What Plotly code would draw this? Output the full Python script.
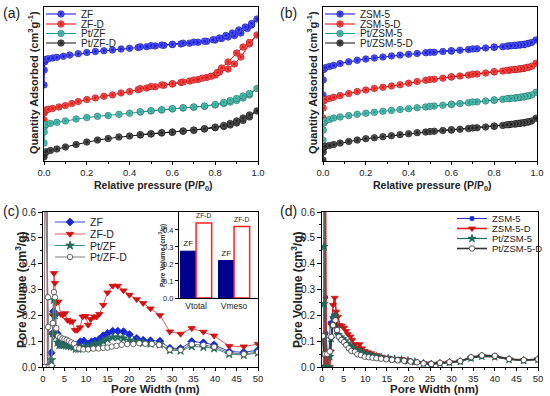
import plotly.graph_objects as go

FONT = "Liberation Sans, Arial, sans-serif"
W, H = 550, 396

# ------------------------- panel (a): N2 isotherms, ZF series -------------------------
a_zf_ads_x = [0.0, 0.001, 0.003, 0.006, 0.01, 0.02, 0.04, 0.06, 0.09, 0.12, 0.16, 0.2, 0.24, 0.28, 0.32, 0.36, 0.4, 0.44, 0.48, 0.52, 0.56, 0.6, 0.64, 0.68, 0.72, 0.76, 0.8, 0.83, 0.86, 0.89, 0.92, 0.95, 0.97, 0.995]
a_zf_ads_y = [49.4, 59.1, 64.3, 65.6, 66.0, 66.4, 66.9, 67.3, 68.0, 68.8, 69.7, 70.5, 71.1, 71.6, 72.1, 72.7, 73.2, 73.7, 74.2, 74.7, 75.1, 75.6, 76.0, 76.5, 77.1, 77.7, 78.6, 79.5, 80.5, 81.5, 83.1, 86.0, 88.3, 92.2]
a_zf_des_x = [0.97, 0.94, 0.91, 0.88, 0.85, 0.82, 0.79, 0.75, 0.7, 0.65, 0.6, 0.55, 0.5, 0.45]
a_zf_des_y = [89.3, 87.0, 85.1, 83.1, 81.5, 79.9, 78.7, 77.8, 77.2, 76.5, 75.8, 75.3, 74.9, 74.2]

a_zfd_ads_x = [0.0, 0.001, 0.004, 0.01, 0.02, 0.04, 0.07, 0.1, 0.13, 0.16, 0.2, 0.24, 0.28, 0.32, 0.36, 0.4, 0.44, 0.48, 0.52, 0.56, 0.6, 0.64, 0.68, 0.72, 0.76, 0.8, 0.82, 0.86, 0.89, 0.92, 0.96, 0.995]
a_zfd_ads_y = [26.6, 31.2, 32.5, 33.1, 33.6, 34.1, 35.1, 36.0, 37.3, 38.6, 39.9, 40.9, 42.0, 42.9, 44.2, 45.1, 46.3, 47.4, 48.2, 49.2, 50.0, 51.0, 51.9, 52.9, 54.2, 55.8, 57.8, 59.7, 63.0, 67.5, 76.0, 81.8]
a_zfd_des_x = [0.96, 0.93, 0.9, 0.86, 0.83, 0.81, 0.78, 0.74, 0.7, 0.65, 0.6, 0.55, 0.5, 0.45]
a_zfd_des_y = [77.0, 74.0, 70.1, 64.3, 60.4, 57.5, 55.0, 53.8, 52.6, 51.3, 50.2, 49.4, 48.4, 47.0]

a_ptzf_ads_x = [0.0, 0.001, 0.004, 0.01, 0.03, 0.06, 0.1, 0.15, 0.2, 0.25, 0.3, 0.35, 0.4, 0.45, 0.5, 0.55, 0.6, 0.65, 0.7, 0.75, 0.8, 0.84, 0.87, 0.9, 0.93, 0.96, 0.995]
a_ptzf_ads_y = [11.7, 18.8, 22.7, 23.8, 24.4, 25.1, 26.0, 27.3, 28.2, 29.0, 29.5, 30.3, 31.0, 31.8, 32.5, 33.1, 33.8, 34.4, 34.9, 35.5, 36.4, 37.3, 38.3, 39.3, 40.9, 42.9, 47.1]
a_ptzf_des_x = [0.96, 0.93, 0.9, 0.87, 0.84, 0.8, 0.75, 0.7, 0.65, 0.6, 0.55, 0.5, 0.45]
a_ptzf_des_y = [43.8, 42.2, 40.6, 39.3, 38.0, 36.7, 35.7, 35.1, 34.6, 34.0, 33.3, 32.7, 32.0]

a_ptzfd_ads_x = [0.0, 0.001, 0.005, 0.01, 0.03, 0.06, 0.1, 0.15, 0.2, 0.25, 0.3, 0.35, 0.4, 0.45, 0.5, 0.55, 0.6, 0.65, 0.7, 0.75, 0.8, 0.84, 0.87, 0.9, 0.93, 0.96, 0.995]
a_ptzfd_ads_y = [2.6, 4.5, 5.5, 6.0, 6.8, 7.8, 9.1, 10.7, 12.3, 13.6, 14.6, 15.6, 16.2, 16.9, 17.5, 18.2, 18.6, 19.3, 19.9, 20.8, 21.6, 22.4, 23.4, 24.7, 26.3, 28.6, 32.5]
a_ptzfd_des_x = [0.96, 0.93, 0.9, 0.87, 0.84, 0.8, 0.75, 0.7, 0.65, 0.6, 0.55, 0.5, 0.45]
a_ptzfd_des_y = [29.9, 27.9, 26.0, 24.4, 23.1, 22.0, 21.0, 20.1, 19.5, 18.8, 18.4, 17.7, 17.1]

# ------------------------- panel (b): N2 isotherms, ZSM-5 series -------------------------
b_ads_x = [0.0, 0.001, 0.004, 0.01, 0.03, 0.05, 0.08, 0.12, 0.16, 0.2, 0.24, 0.28, 0.32, 0.36, 0.4, 0.44, 0.48, 0.52, 0.56, 0.6, 0.64, 0.68, 0.72, 0.76, 0.8, 0.84, 0.87, 0.9, 0.92, 0.94, 0.96, 0.995]
b_des_x = [0.975, 0.955, 0.94, 0.925, 0.91, 0.895, 0.88, 0.86, 0.8, 0.7, 0.6, 0.5]

b_zsm_ads_y = [42.9, 52.6, 59.5, 60.6, 61.4, 62.1, 63.3, 64.4, 65.4, 66.2, 66.9, 67.5, 68.2, 68.8, 69.3, 69.8, 70.3, 70.6, 71.1, 71.4, 71.9, 72.4, 72.9, 73.4, 73.8, 74.2, 74.7, 75.0, 75.3, 75.6, 76.3, 78.6]
b_zsm_des_y = [77.0, 76.2, 75.8, 75.5, 75.3, 75.1, 74.9, 74.6, 74.0, 72.8, 71.6, 70.6]

b_zsmd_ads_y = [27.9, 34.4, 39.0, 39.9, 40.6, 41.4, 42.5, 43.8, 45.1, 46.1, 47.1, 47.9, 48.7, 49.5, 50.5, 51.6, 52.4, 53.1, 53.8, 54.5, 55.2, 55.8, 56.5, 57.1, 57.8, 58.4, 58.9, 59.4, 59.7, 60.1, 60.8, 63.4]
b_zsmd_des_y = [61.5, 60.8, 60.3, 60.0, 59.7, 59.4, 59.2, 58.9, 58.0, 56.4, 54.7, 52.9]

b_ptzsm_ads_y = [13.6, 20.1, 24.7, 26.0, 26.9, 27.9, 28.6, 29.5, 30.3, 31.0, 31.6, 32.3, 32.8, 33.4, 34.0, 34.6, 35.1, 35.7, 36.2, 36.7, 37.3, 37.9, 38.4, 39.0, 39.4, 40.1, 40.5, 40.9, 41.2, 41.6, 42.2, 44.6]
b_ptzsm_des_y = [42.9, 42.3, 41.8, 41.5, 41.2, 40.9, 40.7, 40.5, 39.7, 38.3, 36.9, 35.5]

b_ptzsmd_ads_y = [0.6, 5.8, 8.8, 9.5, 10.1, 10.7, 11.7, 12.7, 13.6, 14.5, 15.1, 15.8, 16.4, 17.1, 17.7, 18.4, 18.8, 19.3, 19.8, 20.1, 20.6, 21.1, 21.6, 22.1, 22.5, 23.1, 23.6, 24.0, 24.4, 24.7, 25.3, 27.7]
b_ptzsmd_des_y = [26.0, 25.4, 25.0, 24.7, 24.4, 24.1, 23.8, 23.5, 22.7, 21.5, 20.3, 19.1]

# ------------------------- panel (c): pore size distribution, ZF series -------------------------
c_zf_x = [0.9, 1.05, 1.9, 2.2, 2.45, 2.7, 3.0, 3.3, 3.7, 4.1, 4.6, 5.1, 5.7, 6.3, 6.8, 7.4, 8.0, 8.7, 9.5, 10.5, 11.3, 12.1, 13.1, 14.0, 15.0, 16.2, 17.4, 18.7, 20.1, 21.8, 23.3, 25.0, 27.2, 29.5, 32.0, 34.6, 37.3, 39.8, 43.3, 46.7, 50.0]
c_zf_y = [1.2, 0.0, 0.055, 0.13, 0.215, 0.2, 0.13, 0.13, 0.09, 0.088, 0.09, 0.088, 0.085, 0.085, 0.082, 0.08, 0.077, 0.098, 0.101, 0.088, 0.098, 0.101, 0.108, 0.121, 0.13, 0.139, 0.139, 0.137, 0.126, 0.111, 0.104, 0.102, 0.1, 0.073, 0.072, 0.099, 0.094, 0.086, 0.06, 0.057, 0.065]

c_zfd_x = [0.9, 1.0, 2.0, 2.3, 2.56, 2.75, 3.0, 3.57, 4.11, 4.57, 5.12, 5.66, 6.28, 6.82, 7.44, 7.98, 8.6, 9.22, 9.92, 10.5, 11.1, 11.9, 12.5, 13.1, 14.0, 15.0, 16.2, 17.4, 18.7, 20.1, 21.8, 23.3, 25.0, 27.2, 29.5, 32.0, 34.6, 37.3, 39.8, 43.3, 46.7, 50.0]
c_zfd_y = [1.2, 0.0, 0.0, 0.2, 0.363, 0.325, 0.247, 0.253, 0.205, 0.201, 0.208, 0.182, 0.176, 0.176, 0.143, 0.143, 0.153, 0.195, 0.197, 0.163, 0.185, 0.195, 0.195, 0.205, 0.24, 0.288, 0.314, 0.314, 0.296, 0.279, 0.262, 0.247, 0.226, 0.2, 0.137, 0.128, 0.15, 0.136, 0.121, 0.081, 0.079, 0.089]

c_ptzf_x = [1.7, 1.95, 2.25, 2.5, 2.75, 3.0, 3.4, 3.8, 4.3, 4.8, 5.3, 5.9, 6.5, 7.1, 7.6, 8.2, 8.9, 9.6, 10.5, 11.3, 12.1, 13.1, 14.0, 15.0, 16.2, 17.4, 18.7, 20.1, 21.8, 23.3, 25.0, 27.2, 29.5, 32.0, 34.6, 37.3, 39.8, 43.3, 46.7, 50.0]
c_ptzf_y = [0.0, 0.027, 0.13, 0.26, 0.2, 0.12, 0.095, 0.085, 0.085, 0.085, 0.083, 0.082, 0.08, 0.078, 0.07, 0.07, 0.075, 0.079, 0.078, 0.083, 0.088, 0.092, 0.1, 0.108, 0.115, 0.115, 0.111, 0.103, 0.098, 0.093, 0.09, 0.087, 0.065, 0.063, 0.08, 0.077, 0.072, 0.05, 0.046, 0.055]

c_ptzfd_x = [0.3, 0.45, 1.15, 1.2, 1.4, 2.0, 2.3, 2.55, 2.8, 3.1, 3.5, 4.0, 4.5, 5.0, 5.5, 6.0, 6.6, 7.2, 7.7, 8.4, 9.4, 10.5, 11.7, 12.9, 14.0, 15.0, 16.0, 17.1, 18.3, 19.6, 21.0, 22.4, 23.8, 25.3, 27.0, 29.5, 32.0, 34.6, 37.3, 39.8, 43.3, 46.7, 50.0]
c_ptzfd_y = [0.0, 0.75, 0.27, 0.155, 0.0, 0.005, 0.17, 0.29, 0.27, 0.15, 0.12, 0.115, 0.11, 0.108, 0.105, 0.1, 0.095, 0.09, 0.075, 0.072, 0.068, 0.068, 0.071, 0.072, 0.074, 0.075, 0.079, 0.082, 0.086, 0.089, 0.089, 0.092, 0.09, 0.089, 0.086, 0.068, 0.066, 0.088, 0.085, 0.078, 0.055, 0.05, 0.058]

# inset of (c): pore volumes
inset_cats = ["Vtotal", "Vmeso"]
inset_zf = [0.275, 0.22]
inset_zfd = [0.44, 0.42]

# ------------------------- panel (d): pore size distribution, ZSM-5 series -------------------------
d_zsm_x = [0.6, 0.8, 0.9, 1.0, 1.6, 1.9, 2.2, 2.5, 2.8, 3.1, 3.5, 3.9, 4.4, 5.0, 5.5, 6.0, 6.6, 7.2, 7.8, 8.5, 9.2, 10.0, 11.0, 12.0, 13.2, 14.5, 16.0, 17.5, 19.0, 20.5, 22.0, 23.5, 25.0, 27.3, 29.5, 32.0, 34.5, 37.0, 40.0, 43.3, 46.7, 50.0]
d_zsm_y = [0.0, 0.27, 0.13, 0.0, 0.04, 0.17, 0.17, 0.19, 0.2, 0.17, 0.13, 0.115, 0.105, 0.1, 0.092, 0.085, 0.078, 0.072, 0.065, 0.06, 0.056, 0.05, 0.046, 0.042, 0.038, 0.035, 0.032, 0.03, 0.027, 0.024, 0.02, 0.016, 0.013, 0.015, 0.018, 0.022, 0.035, 0.042, 0.04, 0.03, 0.026, 0.03]

d_zsmd_x = [0.7, 0.75, 1.0, 1.8, 2.05, 2.3, 2.55, 2.93, 3.3, 3.7, 4.1, 4.6, 5.1, 5.6, 6.0, 6.6, 7.0, 7.6, 8.2, 8.7, 9.3, 9.9, 10.6, 11.4, 12.6, 13.7, 15.3, 16.8, 18.4, 19.9, 21.5, 23.5, 25.3, 27.3, 29.5, 32.0, 34.5, 37.0, 40.0, 43.3, 46.7, 50.0]
d_zsmd_y = [0.0, 0.9, 0.0, 0.0, 0.06, 0.16, 0.24, 0.268, 0.214, 0.195, 0.162, 0.16, 0.152, 0.139, 0.127, 0.118, 0.105, 0.088, 0.075, 0.088, 0.072, 0.062, 0.057, 0.053, 0.046, 0.04, 0.036, 0.031, 0.031, 0.026, 0.02, 0.015, 0.012, 0.015, 0.018, 0.022, 0.036, 0.042, 0.04, 0.03, 0.026, 0.03]

d_ptzsm_x = [0.4, 0.45, 0.5, 0.52, 1.4, 1.8, 2.1, 2.4, 2.7, 3.0, 3.4, 3.8, 4.3, 4.8, 5.3, 5.9, 6.5, 7.1, 7.7, 8.3, 9.0, 9.8, 10.6, 11.4, 12.6, 13.7, 15.3, 16.8, 18.4, 19.9, 21.5, 23.5, 25.3, 27.3, 29.5, 32.0, 34.5, 37.0, 40.0, 43.3, 46.7, 50.0]
d_ptzsm_y = [0.0, 0.9, 0.466, 0.245, 0.0, 0.04, 0.11, 0.165, 0.19, 0.2, 0.15, 0.125, 0.115, 0.108, 0.1, 0.09, 0.082, 0.075, 0.066, 0.06, 0.058, 0.052, 0.048, 0.045, 0.041, 0.037, 0.033, 0.03, 0.028, 0.024, 0.02, 0.014, 0.011, 0.014, 0.017, 0.021, 0.034, 0.041, 0.039, 0.029, 0.025, 0.029]

d_ptzsmd_x = [0.2, 0.4, 0.7, 1.2, 1.8, 2.16, 2.55, 3.09, 3.5, 3.9, 4.5, 5.1, 5.6, 6.2, 6.8, 7.6, 8.2, 9.0, 9.9, 10.8, 11.7, 12.6, 13.7, 14.9, 16.2, 17.5, 19.0, 20.5, 22.0, 23.5, 25.3, 27.3, 29.5, 32.0, 34.5, 37.0, 40.0, 43.3, 46.7, 50.0]
d_ptzsmd_y = [0.12, 0.05, 0.05, 0.05, 0.06, 0.117, 0.162, 0.181, 0.143, 0.117, 0.105, 0.096, 0.085, 0.072, 0.062, 0.059, 0.049, 0.046, 0.04, 0.038, 0.036, 0.034, 0.032, 0.03, 0.028, 0.026, 0.024, 0.021, 0.018, 0.014, 0.012, 0.016, 0.019, 0.023, 0.038, 0.045, 0.043, 0.031, 0.027, 0.03]

# ------------------------- styling helpers -------------------------
def px_x(p):
    return p / W


def px_y(p):
    return 1 - p / H


BALL = {
    "blue": ("#0808e8", "#6f78ff", "#0000a0"),
    "red": ("#e80000", "#ff7070", "#a00000"),
    "teal": ("#1a9a8c", "#70d0c4", "#0e6058"),
    "black": ("#111111", "#707070", "#000000"),
}

fig = go.Figure()


def iso_trace(name, xs, ys, col, xa, ya, leg):
    main, light, dark = BALL[col]
    fig.add_trace(go.Scatter(
        x=xs, y=ys, name=name, mode="lines+markers", xaxis=xa, yaxis=ya, legend=leg,
        line=dict(color=main, width=1),
        marker=dict(symbol="circle", size=6.5, color=light,
                    gradient=dict(type="radial", color=main),
                    line=dict(width=0.6, color=dark)),
    ))


# panel (a)
iso_trace("ZF", a_zf_ads_x + a_zf_des_x, a_zf_ads_y + a_zf_des_y, "blue", "x", "y", "legend")
iso_trace("ZF-D", a_zfd_ads_x + a_zfd_des_x, a_zfd_ads_y + a_zfd_des_y, "red", "x", "y", "legend2")
iso_trace("Pt/ZF", a_ptzf_ads_x + a_ptzf_des_x, a_ptzf_ads_y + a_ptzf_des_y, "teal", "x", "y", "legend3")
iso_trace("Pt/ZF-D", a_ptzfd_ads_x + a_ptzfd_des_x, a_ptzfd_ads_y + a_ptzfd_des_y, "black", "x", "y", "legend4")

# panel (b)
iso_trace("ZSM-5", b_ads_x + b_des_x, b_zsm_ads_y + b_zsm_des_y, "blue", "x2", "y2", "legend5")
iso_trace("ZSM-5-D", b_ads_x + b_des_x, b_zsmd_ads_y + b_zsmd_des_y, "red", "x2", "y2", "legend6")
iso_trace("Pt/ZSM-5", b_ads_x + b_des_x, b_ptzsm_ads_y + b_ptzsm_des_y, "teal", "x2", "y2", "legend7")
iso_trace("Pt/ZSM-5-D", b_ads_x + b_des_x, b_ptzsmd_ads_y + b_ptzsmd_des_y, "black", "x2", "y2", "legend8")


def psd_trace(name, xs, ys, lcol, lw, sym, msize, mcol, mline, xa, ya, leg):
    fig.add_trace(go.Scatter(
        x=xs, y=ys, name=name, mode="lines+markers", xaxis=xa, yaxis=ya, legend=leg,
        line=dict(color=lcol, width=lw),
        marker=dict(symbol=sym, size=msize, color=mcol, line=dict(width=0.8, color=mline)),
    ))


# panel (c)
psd_trace("ZF", c_zf_x, c_zf_y, "#3a48c8", 1, "diamond", 6, "#1428d8", "#1428d8", "x3", "y3", "legend9")
psd_trace("ZF-D", c_zfd_x, c_zfd_y, "#e05a5a", 1, "triangle-down", 6.5, "#d41010", "#d41010", "x3", "y3", "legend10")
psd_trace("Pt/ZF", c_ptzf_x, c_ptzf_y, "#3f8f80", 1, "star", 6.5, "#24695b", "#24695b", "x3", "y3", "legend11")
psd_trace("Pt/ZF-D", c_ptzfd_x, c_ptzfd_y, "#7a7a7a", 1, "circle", 5.5, "white", "#444444", "x3", "y3", "legend12")

# inset bars
fig.add_trace(go.Bar(x=inset_cats, y=inset_zf, name="ZF", xaxis="x5", yaxis="y5", showlegend=False,
                     marker=dict(color="#00008c", line=dict(color="#00008c", width=1)),
                     text=["ZF", "ZF"], textposition="outside", cliponaxis=False,
                     textfont=dict(family=FONT, size=8, color="#222")))
fig.add_trace(go.Bar(x=inset_cats, y=inset_zfd, name="ZF-D", xaxis="x5", yaxis="y5", showlegend=False,
                     marker=dict(color="white", line=dict(color="#ff2020", width=1.5)),
                     text=["ZF-D", "ZF-D"], textposition="outside", cliponaxis=False,
                     textfont=dict(family=FONT, size=8, color="#222")))

# panel (d)
psd_trace("ZSM-5", d_zsm_x, d_zsm_y, "#2432c4", 1, "circle", 4.5, "#1a28d0", "#1a28d0", "x4", "y4", "legend13")
psd_trace("ZSM-5-D", d_zsmd_x, d_zsmd_y, "#e41a1a", 1.6, "triangle-down", 6, "#d01010", "#d01010", "x4", "y4", "legend14")
psd_trace("Pt/ZSM-5", d_ptzsm_x, d_ptzsm_y, "#1e6a5e", 1.2, "star", 6, "#1e6a5e", "#1e6a5e", "x4", "y4", "legend15")
psd_trace("Pt/ZSM-5-D", d_ptzsmd_x, d_ptzsmd_y, "#333333", 1.6, "circle", 5.5, "white", "#333333", "x4", "y4", "legend16")

# ------------------------- axes -------------------------
TICKFONT = dict(family=FONT, size=10, color="#222")
TICK_SMALL = dict(family=FONT, size=9.5, color="#222")


def ax(domain, anchor, **kw):
    d = dict(domain=domain, anchor=anchor, showline=True, linecolor="black", linewidth=1,
             mirror=True, showgrid=False, zeroline=False, ticks="outside", ticklen=4,
             tickwidth=1, tickcolor="black", tickfont=TICKFONT, automargin=False)
    d.update(kw)
    return d


dom_ay = [px_y(161), px_y(7)]
dom_cy = [px_y(367), px_y(212)]
minor_p = dict(dtick=0.1, ticks="outside", ticklen=2, tickcolor="black")
minor_w = dict(dtick=2.5, ticks="outside", ticklen=2, tickcolor="black")
minor_v = dict(dtick=0.05, ticks="outside", ticklen=2, tickcolor="black")

layout_axes = dict(
    xaxis=ax([px_x(44), px_x(258)], "y", range=[0, 1], dtick=0.2, tickformat=".1f", minor=minor_p,
             ticklen=3, tickfont=TICK_SMALL),
    yaxis=ax(dom_ay, "x", range=[0, 100], showticklabels=False, ticks=""),
    xaxis2=ax([px_x(323), px_x(537)], "y2", range=[0, 1], dtick=0.2, tickformat=".1f", minor=minor_p,
              ticklen=3, tickfont=TICK_SMALL),
    yaxis2=ax(dom_ay, "x2", range=[0, 100], showticklabels=False, ticks=""),
    xaxis3=ax([px_x(43), px_x(258)], "y3", range=[0, 50], dtick=5, minor=minor_w, ticklen=3,
              tickfont=TICK_SMALL),
    yaxis3=ax(dom_cy, "x3", range=[0, 0.6], dtick=0.1, tickformat=".1f", minor=minor_v),
    xaxis4=ax([px_x(322), px_x(538)], "y4", range=[0, 50], dtick=5, minor=minor_w, ticklen=3,
              tickfont=TICK_SMALL),
    yaxis4=ax(dom_cy, "x4", range=[0, 0.6], dtick=0.1, tickformat=".1f", minor=minor_v),
    xaxis5=ax([px_x(179), px_x(258)], "y5", type="category", range=[-0.45, 1.63], ticks="",
              tickfont=dict(family=FONT, size=8.5, color="#222")),
    yaxis5=ax([px_y(298), px_y(212)], "x5", range=[0, 0.505], tickvals=[0, 0.1, 0.2, 0.3, 0.4],
              ticktext=["0.0", "0.1", "0.2", "0.3", "0.4"], ticklen=3,
              tickfont=dict(family=FONT, size=7.5, color="#222")),
)

# ------------------------- legends (one per entry for tight spacing) -------------------------
def leg(xp, yp, size):
    return dict(x=px_x(xp), y=px_y(yp), xanchor="left", yanchor="middle", bgcolor="rgba(0,0,0,0)",
                borderwidth=0, font=dict(family=FONT, size=size, color="#222"), itemwidth=30,
                tracegroupgap=0)


legends = {}
rows_ab = [14, 24, 33.5, 43]
rows_c = [222, 234, 245.5, 257]
rows_d = [218.5, 228.5, 238.5, 248.5]
names = ["legend"] + [f"legend{i}" for i in range(2, 17)]
for i, r in enumerate(rows_ab):
    legends[names[i]] = leg(41, r, 10)
    legends[names[4 + i]] = leg(320, r, 10)
for i, r in enumerate(rows_c):
    legends[names[8 + i]] = leg(50, r, 10.5)
for i, r in enumerate(rows_d):
    legends[names[12 + i]] = leg(452, r, 9.5)

# ------------------------- text -------------------------
def ann(text, xp, yp, size, angle=0, bold=True):
    return dict(text=(f"<b>{text}</b>" if bold else text), x=px_x(xp), y=px_y(yp), xref="paper", yref="paper",
                showarrow=False, xanchor="center", yanchor="middle", textangle=angle,
                font=dict(family=FONT, size=size, color="#222"))


annotations = [
    ann("(a)", 11, 13, 14, bold=False),
    ann("(b)", 288, 13, 14, bold=False),
    ann("(c)", 11, 211, 14, bold=False),
    ann("(d)", 288, 211, 14, bold=False),
    ann("Quantity Adsorbed (cm<sup>3</sup>g<sup>-1</sup>)", 33, 83, 11, -90),
    ann("Relative pressure (P/P<sub>0</sub>)", 153, 186, 10.5),
    ann("Quantity Adsorbed (cm<sup>3</sup>g<sup>-1</sup>)", 312, 83, 11, -90),
    ann("Relative pressure (P/P<sub>0</sub>)", 432, 186, 10.5),
    ann("Pore Volume (cm<sup>3</sup>/g)", 21, 290, 12, -90),
    ann("Pore Width (nm)", 155, 389, 11.5),
    ann("Pore Volume (cm<sup>3</sup>/g)", 297, 290, 12, -90),
    ann("Pore Width (nm)", 434, 389, 11.5),
    ann("Pore Volume (cm<sup>3</sup>/g)", 162, 256, 6.5, -90),
]

fig.update_layout(
    width=W, height=H, margin=dict(l=0, r=0, t=0, b=0, autoexpand=False),
    paper_bgcolor="white", plot_bgcolor="white",
    font=dict(family=FONT, color="#222"),
    barmode="group", bargap=0.18, bargroupgap=0,
    annotations=annotations,
    **layout_axes,
    **legends,
)

# the page's default body margin would push the figure 8px away from the window corner
fig.write_html("out.html", config={"displayModeBar": False},
               post_script="document.body.style.margin='0';document.body.style.overflow='hidden';")
